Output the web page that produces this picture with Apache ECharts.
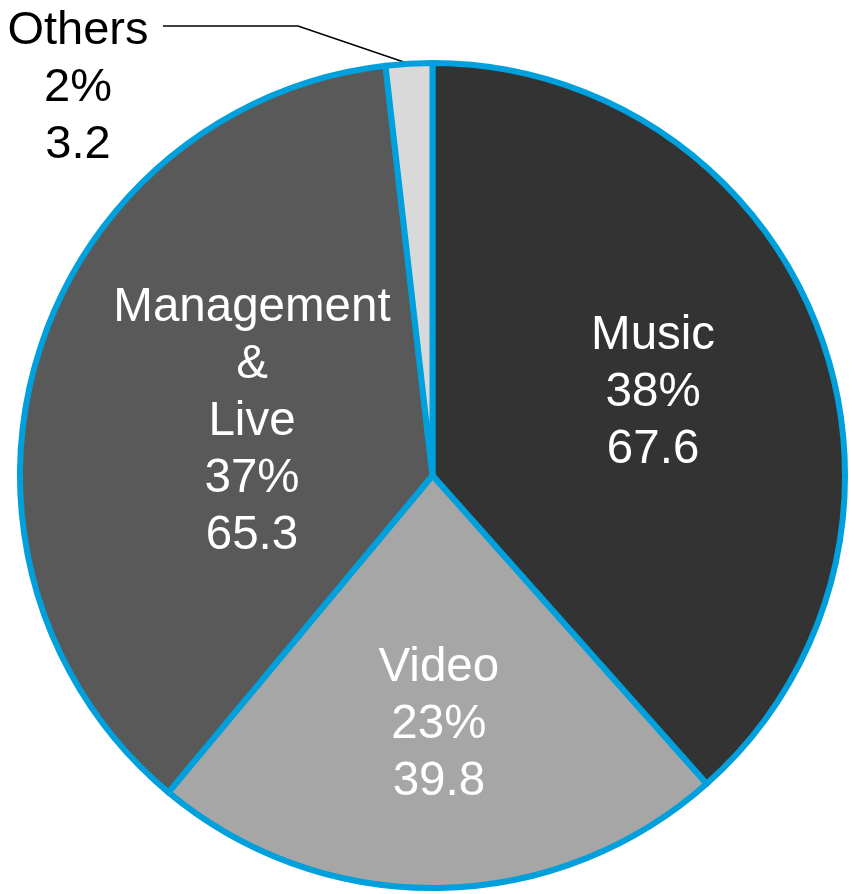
<!DOCTYPE html>
<html>
<head>
<meta charset="utf-8">
<script src="https://cdn.jsdelivr.net/npm/echarts@6/dist/echarts.min.js"></script>
<style>html,body{margin:0;padding:0;background:#fff}#c{width:854px;height:894px}</style>
</head>
<body>
<div id="c"></div>
<script>
var categories = ['Music', 'Video', 'Management\n&\nLive', 'Others'];
var values = [67.6, 39.8, 65.3, 3.2];
var colors = ['#333333', '#a6a6a6', '#595959', '#d9d9d9'];

var CX = 432.5, CY = 475.5, R = 412.5;
var insideOffsets = [[25, -8], [3, 40], [20, 6], [0, 0]];

var chart = echarts.init(document.getElementById('c'), null, {renderer: 'canvas'});
var data = categories.map(function (name, i) {
  var isOut = i === 3;
  return {
    name: name,
    value: values[i],
    itemStyle: {color: colors[i]},
    label: isOut ? {position: 'outside', color: '#000', fontSize: 47} : {position: 'inside', color: '#fff', offset: insideOffsets[i]},
    labelLine: {show: isOut}
  };
});

var total = values.reduce(function (a, b) { return a + b; }, 0);
function edgePoint(idx) {
  var before = 0;
  for (var k = 0; k < idx; k++) before += values[k];
  var frac = (before + values[idx] / 2) / total;
  var ang = frac * 2 * Math.PI;
  return [CX + R * Math.sin(ang), CY - R * Math.cos(ang)];
}

chart.setOption({
  animation: false,
  series: [{
    type: 'pie',
    center: [CX, CY],
    radius: [0, R],
    startAngle: 90,
    clockwise: true,
    avoidLabelOverlap: false,
    itemStyle: {borderColor: '#00a0dc', borderWidth: 6},
    label: {
      fontFamily: 'Liberation Sans, Arial, sans-serif',
      fontSize: 47.5,
      lineHeight: 57,
      align: 'center',
      formatter: function (p) {
        return p.name + '\n' + Math.round(p.percent) + '%\n' + p.value;
      }
    },
    labelLine: {lineStyle: {color: '#000', width: 1.5}, length: 20, length2: 20},
    labelLayout: function (p) {
      if (p.dataIndex !== 3) return {};
      var start = edgePoint(3);
      return {
        x: 78, y: 88, align: 'center', verticalAlign: 'middle',
        labelLinePoints: [start, [298, 26], [163, 26]]
      };
    },
    emphasis: {disabled: true},
    data: data
  }]
});
</script>
</body>
</html>
